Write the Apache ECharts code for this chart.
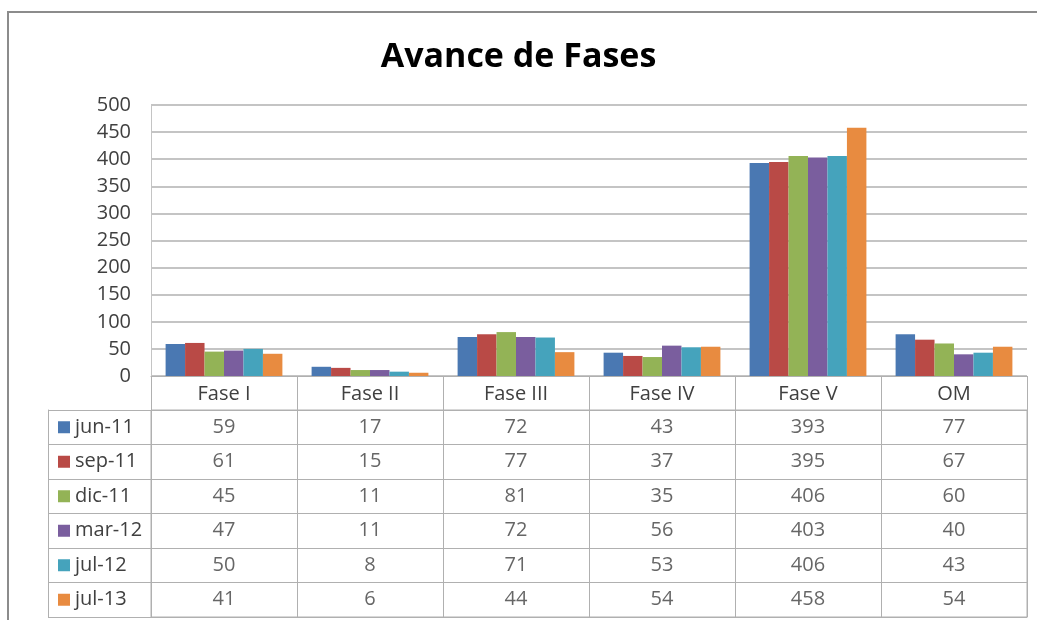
<!DOCTYPE html>
<html>
<head>
<meta charset="utf-8">
<script src="https://cdn.jsdelivr.net/npm/echarts@6/dist/echarts.min.js"></script>
<style>
html,body{margin:0;padding:0;background:#fff;}
#c{width:1037px;height:620px;}
</style>
</head>
<body>
<div id="c"></div>
<script>
const categories = ['Fase I', 'Fase II', 'Fase III', 'Fase IV', 'Fase V', 'OM'];
const seriesNames = ['jun-11', 'sep-11', 'dic-11', 'mar-12', 'jul-12', 'jul-13'];
const jun11 = [59, 17, 72, 43, 393, 77];
const sep11 = [61, 15, 77, 37, 395, 67];
const dic11 = [45, 11, 81, 35, 406, 60];
const mar12 = [47, 11, 72, 56, 403, 40];
const jul12 = [50, 8, 71, 53, 406, 43];
const jul13 = [41, 6, 44, 54, 458, 54];
const yTicks = [0, 50, 100, 150, 200, 250, 300, 350, 400, 450, 500];

const seriesValues = [jun11, sep11, dic11, mar12, jul12, jul13];
const colors = ['#4A78B2', '#B94A46', '#93B356', '#7A5E9E', '#45A3BC', '#E88B40'];
const FONT = '"Open Sans", Lato, sans-serif';
const lineGrey = '#C4C4C4';
const tableGrey = '#B0B0B0';

const chart = echarts.init(document.getElementById('c'), null, {renderer: 'canvas'});

const rich = {t: {fontFamily: FONT, fontSize: 20, color: '#404040', padding: [0, 0, 0, 5]}};
colors.forEach((c, i) => { rich['c' + i] = {width: 12, height: 12, backgroundColor: c}; });

const cellData = [];
seriesValues.forEach((vals, si) => vals.forEach((v, ci) => cellData.push([ci, si, v])));

const option = {
  backgroundColor: '#fff',
  animation: false,
  title: {
    text: 'Avance de Fases',
    left: 'center',
    top: 35,
    textStyle: {fontFamily: FONT, fontSize: 34, fontWeight: 'bold', color: '#000'}
  },
  graphic: [{
    type: 'rect',
    shape: {x: 8, y: 12, width: 1040, height: 620},
    style: {fill: 'none', stroke: '#8C8C8C', lineWidth: 2},
    silent: true, z: 0
  }],
  grid: [
    {left: 151, right: 10, top: 105, height: 271},
    {left: 151, right: 10, top: 410, height: 207, show: true, borderColor: tableGrey, borderWidth: 1, backgroundColor: 'transparent'}
  ],
  xAxis: [
    {
      type: 'category', gridIndex: 0, data: categories, boundaryGap: true,
      axisLine: {show: true, lineStyle: {color: tableGrey, width: 1}},
      axisTick: {show: true, length: 34, interval: 0, lineStyle: {color: tableGrey, width: 1}},
      axisLabel: {fontFamily: FONT, fontSize: 20, color: '#404040', margin: 8, interval: 0},
      splitLine: {show: false}
    },
    {
      type: 'category', gridIndex: 1, data: categories, boundaryGap: true,
      axisLine: {show: true, lineStyle: {color: tableGrey}},
      axisTick: {show: false},
      axisLabel: {show: false},
      splitLine: {show: true, interval: 0, lineStyle: {color: tableGrey, width: 1}}
    }
  ],
  yAxis: [
    {
      type: 'value', gridIndex: 0, min: yTicks[0], max: yTicks[yTicks.length - 1], interval: yTicks[1] - yTicks[0],
      axisLine: {show: true, lineStyle: {color: lineGrey, width: 1}},
      axisTick: {show: false},
      axisLabel: {fontFamily: FONT, fontSize: 20, color: '#404040', margin: 20},
      splitLine: {show: true, lineStyle: {color: lineGrey, width: 2}}
    },
    {
      type: 'category', gridIndex: 1, data: seriesNames, inverse: true, boundaryGap: true,
      axisLine: {show: true, lineStyle: {color: tableGrey}},
      axisTick: {show: true, length: 103, interval: 0, lineStyle: {color: tableGrey, width: 1}},
      axisLabel: {
        align: 'left', margin: 93, interval: 0,
        formatter: (val, idx) => '{c' + idx + '|}{t|' + val + '}',
        rich: rich
      },
      splitLine: {show: true, interval: 0, lineStyle: {color: tableGrey, width: 1}}
    },
    {
      type: 'category', gridIndex: 1, data: seriesNames, inverse: true, position: 'left', offset: 103,
      axisLine: {show: true, lineStyle: {color: tableGrey}},
      axisTick: {show: false}, axisLabel: {show: false}, splitLine: {show: false}
    }
  ],
  series: seriesValues.map((vals, i) => ({
    name: seriesNames[i], type: 'bar', xAxisIndex: 0, yAxisIndex: 0,
    data: vals, barCategoryGap: '20%', barGap: '0%',
    itemStyle: {color: colors[i]}
  })).concat([{
    type: 'scatter', xAxisIndex: 1, yAxisIndex: 1,
    data: cellData, symbolSize: 1, itemStyle: {color: 'rgba(0,0,0,0)'},
    encode: {x: 0, y: 1},
    label: {
      show: true, position: 'inside', formatter: p => String(p.value[2]),
      fontFamily: FONT, fontSize: 20, color: '#404040'
    },
    silent: true
  }])
};
chart.setOption(option);
</script>
</body>
</html>
